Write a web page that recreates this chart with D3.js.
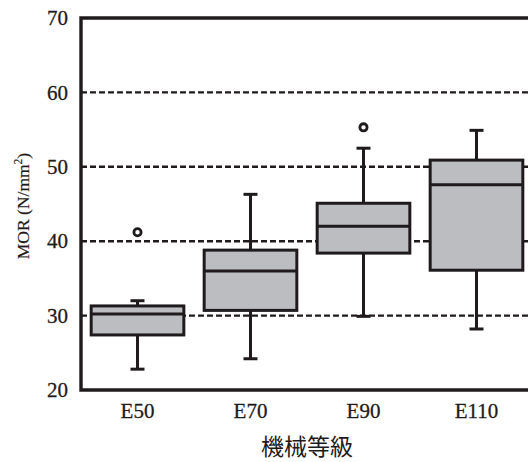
<!DOCTYPE html>
<html>
<head>
<meta charset="utf-8">
<script src="https://cdn.jsdelivr.net/npm/d3@7"></script>
<style>
  html, body { margin: 0; padding: 0; background: #fff; }
  svg { display: block; }
</style>
</head>
<body>
<svg id="chart" width="528" height="462"></svg>
<script>
const categories = ["E50", "E70", "E90", "E110"];
const whiskerLow  = [22.8, 24.2, 29.9, 28.2];
const q1          = [27.4, 30.7, 38.4, 36.1];
const median      = [30.2, 36.0, 42.0, 47.6];
const q3          = [31.3, 38.8, 45.1, 50.9];
const whiskerHigh = [32.0, 46.3, 52.5, 54.9];
const outliers    = [[41.2], [], [55.3], []];
const yTicks = [20, 30, 40, 50, 60, 70];
const gridValues = [30, 40, 50, 60];
const xTitle = "機械等級";

(function () {
const ink = "#1f1b1c";
const boxFill = "#bcbdc1";

const svg = d3.select("#chart");
const pL = 81, pR = 533, pT = 18, pB = 390;

const x = d3.scaleBand().domain(categories).range([pL, pR]).padding(0);
const y = d3.scaleLinear().domain([20, 70]).range([pB, pT]);
const boxW = x.bandwidth() * 0.82;
const capW = 14;

// gridlines
svg.append("g").selectAll("line").data(gridValues).join("line")
  .attr("x1", pL).attr("x2", pR)
  .attr("y1", d => y(d)).attr("y2", d => y(d))
  .attr("stroke", ink).attr("stroke-width", 2.4).attr("stroke-dasharray", "6,3");

// axes
const yAxis = d3.axisLeft(y).tickValues(yTicks).tickSize(0).tickPadding(13);
const gy = svg.append("g").attr("transform", `translate(${pL},0)`).call(yAxis);
gy.select(".domain").remove();
gy.selectAll("text").attr("font-family", "Liberation Serif, serif").attr("font-size", 21)
  .attr("fill", ink).attr("stroke", ink).attr("stroke-width", 0.3);

const xAxis = d3.axisBottom(x).tickSize(0).tickPadding(13);
const gx = svg.append("g").attr("transform", `translate(0,${pB})`).call(xAxis);
gx.select(".domain").remove();
gx.selectAll("text").attr("font-family", "Liberation Serif, serif").attr("font-size", 21)
  .attr("fill", ink).attr("stroke", ink).attr("stroke-width", 0.3);

// frame lines
svg.append("path")
  .attr("d", `M${pR},${pT}H${pL}V${pB}H${pR}`)
  .attr("fill", "none").attr("stroke", ink).attr("stroke-width", 3.4);

// boxes
const data = categories.map((c, i) => ({
  c, lo: whiskerLow[i], q1: q1[i], med: median[i], q3: q3[i], hi: whiskerHigh[i], out: outliers[i]
}));
const g = svg.append("g").selectAll("g").data(data).join("g")
  .attr("transform", d => `translate(${x(d.c) + x.bandwidth() / 2},0)`);

g.append("line").attr("x1", 0).attr("x2", 0)
  .attr("y1", d => y(d.q3)).attr("y2", d => y(d.hi))
  .attr("stroke", ink).attr("stroke-width", 3);
g.append("line").attr("x1", 0).attr("x2", 0)
  .attr("y1", d => y(d.q1)).attr("y2", d => y(d.lo))
  .attr("stroke", ink).attr("stroke-width", 3);
g.append("line").attr("x1", -capW / 2).attr("x2", capW / 2)
  .attr("y1", d => y(d.hi)).attr("y2", d => y(d.hi))
  .attr("stroke", ink).attr("stroke-width", 3);
g.append("line").attr("x1", -capW / 2).attr("x2", capW / 2)
  .attr("y1", d => y(d.lo)).attr("y2", d => y(d.lo))
  .attr("stroke", ink).attr("stroke-width", 3);
g.append("rect")
  .attr("x", -boxW / 2).attr("width", boxW)
  .attr("y", d => y(d.q3)).attr("height", d => y(d.q1) - y(d.q3))
  .attr("fill", boxFill).attr("stroke", ink).attr("stroke-width", 3);
g.append("line").attr("x1", -boxW / 2).attr("x2", boxW / 2)
  .attr("y1", d => y(d.med)).attr("y2", d => y(d.med))
  .attr("stroke", ink).attr("stroke-width", 3);
g.selectAll("circle").data(d => d.out).join("circle")
  .attr("cx", 0).attr("cy", d => y(d)).attr("r", 3.6)
  .attr("fill", "#fff").attr("stroke", ink).attr("stroke-width", 2.8);

// titles
svg.append("text")
  .attr("x", (pL + pR) / 2).attr("y", 455)
  .attr("text-anchor", "middle")
  .attr("font-family", "Noto Sans CJK JP, sans-serif").attr("font-size", 23)
  .attr("fill", ink).text(xTitle);

const yt = svg.append("text")
  .attr("transform", `translate(29,${(pT + pB) / 2 + 2}) rotate(-90)`)
  .attr("text-anchor", "middle")
  .attr("font-family", "Liberation Serif, serif").attr("font-size", 17.5)
  .attr("fill", ink).attr("stroke", ink).attr("stroke-width", 0.2);
yt.append("tspan").text("MOR (N/mm");
yt.append("tspan").attr("font-size", 11.5).attr("dy", -7).text("2");
yt.append("tspan").attr("dy", 7).text(")");
})();
</script>
</body>
</html>
